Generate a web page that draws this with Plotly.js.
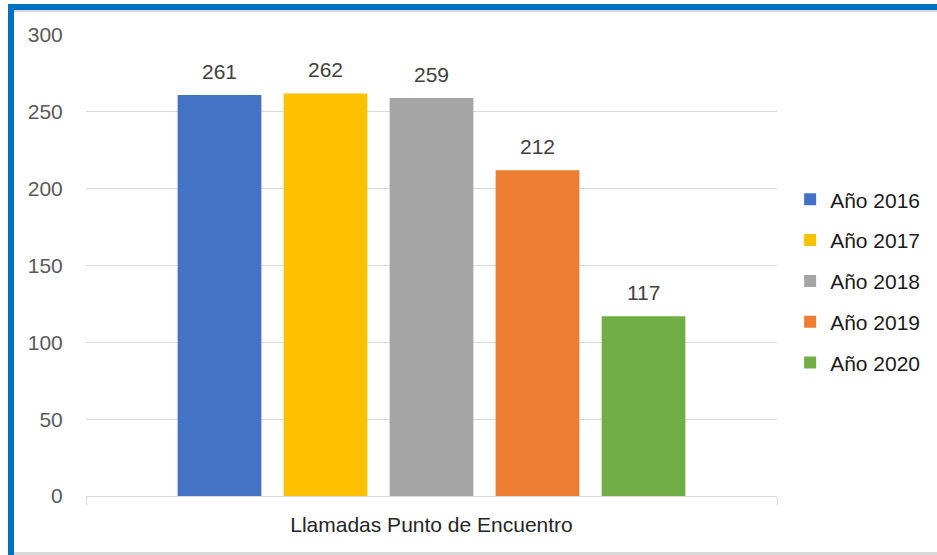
<!DOCTYPE html>
<html>
<head>
<meta charset="utf-8">
<script src="https://cdn.plot.ly/plotly-3.0.1.min.js"></script>
<style>
html,body{margin:0;padding:0;background:#fff;}
#wrap{position:relative;width:937px;height:555px;overflow:hidden;}
#chart{position:absolute;left:0;top:0;width:937px;height:555px;}
.bt{position:absolute;left:8px;top:4px;width:929px;height:6px;background:#0070c0;}
.bl{position:absolute;left:8px;top:4px;width:6px;height:551px;background:#0070c0;}
.gt{position:absolute;left:14px;top:10px;width:923px;height:2px;background:#d9d9d9;}
.gb{position:absolute;left:14px;top:552px;width:923px;height:3px;background:#d9d9d9;}
</style>
</head>
<body>
<div id="wrap">
<div id="chart"></div>
<div class="bt"></div><div class="bl"></div><div class="gt"></div><div class="gb"></div>
</div>
<script>
var category = ["Llamadas Punto de Encuentro"];
var seriesNames = ["Año 2016", "Año 2017", "Año 2018", "Año 2019", "Año 2020"];
var seriesValues = [261, 262, 259, 212, 117];
var seriesColors = ["#4472c4", "#ffc000", "#a5a5a5", "#ed7d31", "#70ad47"];
var yTicks = [0, 50, 100, 150, 200, 250, 300];

var FONT = "Liberation Sans, Arial, sans-serif";
var FS = 21;
var traces = seriesNames.map(function(n, i){
  return {
    type: "bar",
    name: n,
    legendgroup: "g" + i,
    x: category,
    y: [seriesValues[i]],
    marker: {color: seriesColors[i]},
    hoverinfo: "none"
  };
});

var layout = {
  width: 937, height: 555,
  margin: {l: 86, r: 160, t: 35, b: 59, autoexpand: false},
  paper_bgcolor: "rgba(0,0,0,0)",
  plot_bgcolor: "rgba(0,0,0,0)",
  barmode: "group",
  bargap: 0.233,
  bargroupgap: 0.21,
  showlegend: true,
  legend: {
    x: 1.019, xanchor: "left", y: 0.466, yanchor: "middle",
    font: {family: FONT, size: FS, color: "#1a1a1a"},
    traceorder: "grouped",
    tracegroupgap: 10.5,
    bgcolor: "rgba(0,0,0,0)"
  },
  xaxis: {
    type: "category",
    showline: true, linecolor: "#d9d9d9", linewidth: 1,
    ticks: "outside", tickson: "boundaries", ticklen: 8, tickcolor: "#d9d9d9",
    ticklabelstandoff: 10,
    tickfont: {family: FONT, size: FS, color: "#262626"},
    showgrid: false
  },
  yaxis: {
    range: [0, 300],
    tickvals: yTicks,
    ticktext: yTicks.map(String),
    showgrid: true, gridcolor: "#d9d9d9", gridwidth: 1,
    zeroline: false, showline: false,
    ticks: "outside", ticklen: 18, tickcolor: "rgba(0,0,0,0)",
    tickfont: {family: FONT, size: FS, color: "#595959"}
  },
  font: {family: FONT}
};

var gd = document.getElementById("chart");
Plotly.newPlot(gd, traces, layout, {displayModeBar: false, staticPlot: true}).then(function(){
  var anns = seriesValues.map(function(v, i){
    var cb = gd.calcdata[i][0];
    var xc = (typeof cb.x === "number") ? cb.x : 0;
    return {
      xref: "x", yref: "y", x: xc, y: v,
      text: String(v), showarrow: false,
      xanchor: "center", yanchor: "bottom", yshift: 10,
      font: {family: FONT, size: FS, color: "#404040"}
    };
  });
  return Plotly.relayout(gd, {annotations: anns});
});
</script>
</body>
</html>
